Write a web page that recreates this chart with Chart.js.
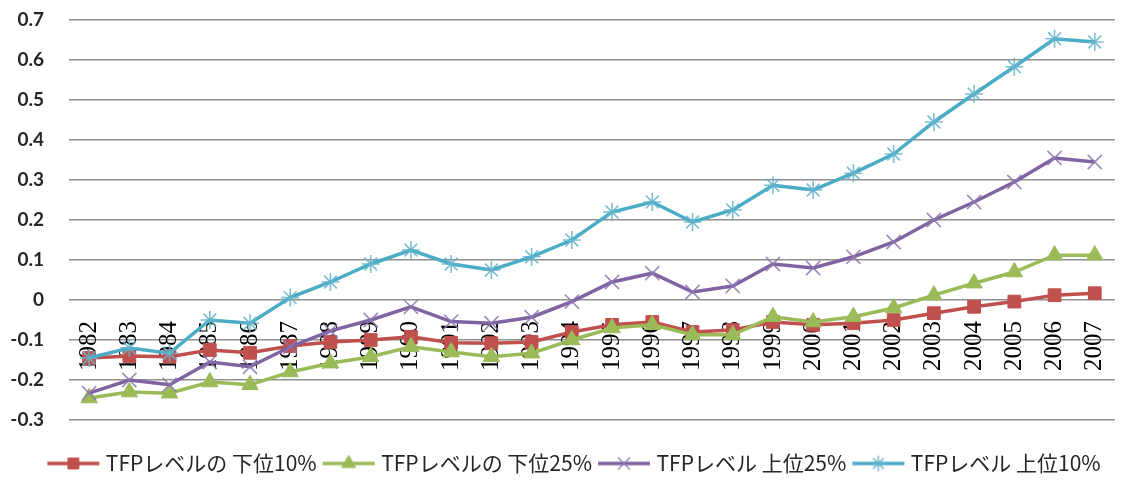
<!DOCTYPE html>
<html>
<head>
<meta charset="utf-8">
<script src="https://cdn.jsdelivr.net/npm/chart.js@4/dist/chart.umd.min.js"></script>
<style>
  html, body { margin: 0; padding: 0; background: #ffffff; overflow: hidden; }
  #wrap { width: 1138px; height: 484px; overflow: hidden; position: relative; }
  #box { position: absolute; left: 0; top: 0; width: 1146px; height: 484px; }
</style>
</head>
<body>
<div id="wrap"><div id="box"><canvas id="chart"></canvas></div></div>
<script>
// Years on the category axis
const years = ['1982','1983','1984','1985','1986','1987','1988','1989','1990','1991','1992','1993','1994',
               '1995','1996','1997','1998','1999','2000','2001','2002','2003','2004','2005','2006','2007'];

// Series names
const seriesNames = ['TFPレベルの 下位10%', 'TFPレベルの 下位25%', 'TFPレベル 上位25%', 'TFPレベル 上位10%'];

// TFP level, bottom 10%
const bottom10 = [-0.145,-0.140,-0.142,-0.125,-0.132,-0.115,-0.105,-0.100,-0.092,-0.107,-0.108,-0.105,-0.080,
                  -0.062,-0.055,-0.080,-0.075,-0.055,-0.062,-0.058,-0.050,-0.033,-0.017,-0.004,0.012,0.017];
// TFP level, bottom 25%
const bottom25 = [-0.245,-0.230,-0.233,-0.205,-0.212,-0.180,-0.158,-0.142,-0.117,-0.130,-0.142,-0.133,-0.100,
                  -0.070,-0.062,-0.087,-0.087,-0.042,-0.055,-0.042,-0.020,0.012,0.042,0.070,0.112,0.112];
// TFP level, top 25%
const top25 = [-0.233,-0.200,-0.212,-0.155,-0.167,-0.117,-0.077,-0.050,-0.017,-0.054,-0.058,-0.043,-0.004,
               0.045,0.067,0.020,0.035,0.090,0.080,0.108,0.145,0.200,0.245,0.295,0.355,0.345];
// TFP level, top 10%
const top10 = [-0.145,-0.120,-0.133,-0.050,-0.058,0.006,0.045,0.090,0.125,0.090,0.075,0.108,0.150,
               0.220,0.245,0.195,0.225,0.287,0.275,0.317,0.365,0.445,0.515,0.583,0.653,0.645];

// Value axis range
const yMin = -0.3, yMax = 0.7, yStep = 0.1;

const colors  = ['#C0504D', '#9BBB59', '#8064A2', '#4BACC6'];
const markerColors = ['#C0504D', '#9BBB59', 'rgba(140,120,175,0.85)', 'rgba(100,180,205,0.85)'];
const markers = ['rect', 'triangle', 'crossRot', 'star'];
const markerRadius = [9, 9.5, 10, 9];
const markerWidth = [1, 1, 1.6, 1.6];

// Small line+marker swatch used as the legend symbol
function swatch(i) {
  const c = document.createElement('canvas');
  c.width = 58; c.height = 22;
  const g = c.getContext('2d');
  g.strokeStyle = colors[i];
  g.lineWidth = 3.5;
  g.beginPath(); g.moveTo(3, 11); g.lineTo(55, 11); g.stroke();
  g.fillStyle = markerColors[i];
  g.strokeStyle = markerColors[i];
  g.lineWidth = markerWidth[i];
  Chart.helpers.drawPoint(g, {
    pointStyle: markers[i], radius: markerRadius[i] * 0.85, borderWidth: markerWidth[i], rotation: 0
  }, 29, 11);
  return c;
}

const seriesData = [bottom10, bottom25, top25, top10];
const datasets = seriesData.map((d, i) => ({
  label: seriesNames[i],
  data: d,
  borderColor: colors[i],
  backgroundColor: markerColors[i],
  pointBorderColor: markerColors[i],
  pointBackgroundColor: markerColors[i],
  borderWidth: 3.5,
  pointStyle: markers[i],
  pointRadius: markerRadius[i],
  pointBorderWidth: markerWidth[i],
  pointHoverRadius: markerRadius[i],
  tension: 0,
  order: 4 - i
}));

const legendSwatches = [0, 1, 2, 3].map(swatch);

new Chart(document.getElementById('chart'), {
  type: 'line',
  data: { labels: years, datasets: datasets },
  options: {
    responsive: true,
    maintainAspectRatio: false,
    animation: false,
    layout: { padding: { top: 20, right: 2, left: 8, bottom: 0 } },
    scales: {
      x: {
        type: 'category',
        offset: true,
        position: { y: 0 },
        z: 1,
        grid: { display: false, drawTicks: false },
        border: { display: false },
        ticks: {
          autoSkip: false,
          minRotation: 90,
          maxRotation: 90,
          padding: 21,
          color: '#000000',
          font: { family: '"Liberation Serif", "DejaVu Serif", serif', size: 25 }
        }
      },
      y: {
        min: yMin,
        max: yMax,
        grid: { color: '#909090', lineWidth: 1.6, drawTicks: false },
        border: { display: false },
        afterFit: scale => {
          scale.width = 61;
          scale.paddingTop = 0;
          scale.paddingBottom = 0;
        },
        ticks: {
          stepSize: yStep,
          padding: 25,
          color: '#262626',
          font: { family: 'Lato, "Liberation Sans", sans-serif', size: 19, weight: 'bold' },
          callback: v => Math.round(v * 10) / 10
        }
      }
    },
    plugins: {
      tooltip: { enabled: false },
      legend: {
        position: 'bottom',
        title: { display: true, text: '', font: { size: 2, lineHeight: 1 }, padding: { top: 21, bottom: 0 } },
        labels: {
          usePointStyle: true,
          pointStyleWidth: 44,
          padding: 10,
          color: '#262626',
          font: { family: '"Noto Sans CJK JP", "Noto Sans", sans-serif', size: 21 },
          generateLabels: chart => chart.data.datasets.map((ds, i) => ({
            text: ds.label,
            pointStyle: legendSwatches[i],
            fillStyle: colors[i],
            strokeStyle: colors[i],
            lineWidth: 0,
            hidden: false,
            datasetIndex: i,
            fontColor: '#262626'
          }))
        }
      }
    }
  }
});
</script>
</body>
</html>
